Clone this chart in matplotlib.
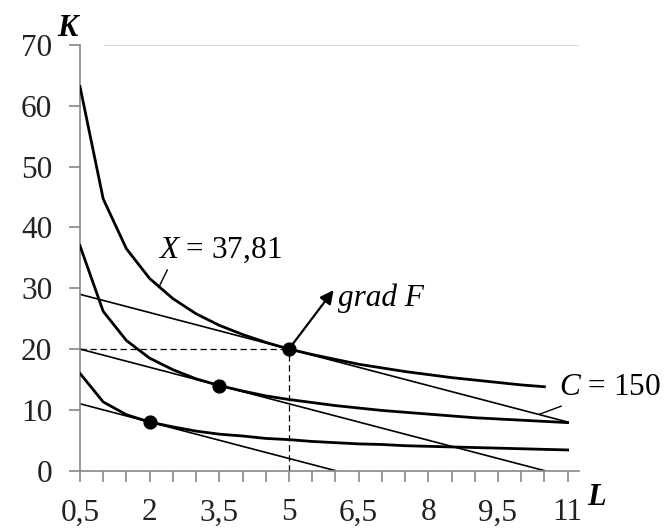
import numpy as np
import matplotlib.pyplot as plt

# L values (labour), isoquant K values
L = [0.5, 1.0, 1.5, 2.0, 2.5, 3.0, 3.5, 4.0, 4.5, 5.0, 5.5,
     6.0, 6.5, 7.0, 7.5, 8.0, 8.5, 9.0, 9.5, 10.0, 10.5, 11.0]
K_top = [63.2, 44.7, 36.5, 31.6, 28.3, 25.8, 23.9, 22.4, 21.1, 20.0, 19.1,
         18.3, 17.5, 16.9, 16.3, 15.8, 15.3, 14.9, 14.5, 14.1, 13.8]
K_mid = [37.0, 26.2, 21.4, 18.5, 16.6, 15.1, 14.0, 13.1, 12.3, 11.7, 11.2,
         10.7, 10.3, 9.9, 9.6, 9.3, 9.0, 8.7, 8.5, 8.3, 8.1, 7.9]
K_low = [16.0, 11.3, 9.2, 8.0, 7.2, 6.5, 6.0, 5.7, 5.3, 5.1, 4.8,
         4.6, 4.4, 4.3, 4.1, 4.0, 3.9, 3.8, 3.7, 3.6, 3.5, 3.4]

# budget lines (end points)
bud_top_L = [0.5, 11.0]
bud_top_K = [29.0, 8.0]
bud_mid_L = [0.5, 10.5]
bud_mid_K = [20.0, 0.0]
bud_low_L = [0.5, 6.0]
bud_low_K = [11.0, 0.0]

# tangency points
opt_L = [2.0, 3.5, 5.0]
opt_K = [8.0, 14.0, 20.0]

grad_end = (5.96, 29.7)

xticks = np.arange(0.5, 11.01, 0.5)
xlabels = ['0,5', '2', '3,5', '5', '6,5', '8', '9,5', '11']

plt.rcParams['font.family'] = 'Liberation Serif'
plt.rcParams['mathtext.fontset'] = 'custom'
plt.rcParams['mathtext.rm'] = 'Liberation Serif'
plt.rcParams['mathtext.it'] = 'Liberation Serif:italic'

fig = plt.figure(figsize=(6.72, 5.30), dpi=100)
ax = fig.add_axes([0.119, 0.112, 0.743, 0.803])

ax.plot(L[:len(K_top)], K_top, color='black', lw=2.0, zorder=3)
ax.plot(L, K_mid, color='black', lw=2.0, zorder=3)
ax.plot(L, K_low, color='black', lw=2.0, zorder=3)

ax.plot(bud_top_L, bud_top_K, color='black', lw=1.2, zorder=2)
ax.plot(bud_mid_L, bud_mid_K, color='black', lw=1.2, zorder=2)
ax.plot(bud_low_L, bud_low_K, color='black', lw=1.2, zorder=2)

# dashed guides to the optimum
ax.plot([L[0], opt_L[2]], [opt_K[2], opt_K[2]], color='black', lw=0.9, ls=(0, (5, 3)))
ax.plot([opt_L[2], opt_L[2]], [0, opt_K[2]], color='black', lw=0.9, ls=(0, (5, 3)))

ax.scatter(opt_L, opt_K, s=85, color='black', zorder=5)

ax.annotate('', xy=grad_end, xytext=(opt_L[2], opt_K[2]),
            arrowprops=dict(arrowstyle='-|>', color='black', lw=1.6,
                            mutation_scale=20, shrinkA=0, shrinkB=0), zorder=6)

ax.text(6.05, 28.4, 'grad F', fontsize=22.5, style='italic', va='center', ha='left')

ax.text(2.18, 36.3, r'$\it{X}$ = 37,81', fontsize=22.5, va='center', ha='left')
ax.plot([2.2, 2.38], [30.2, 33.0], color='black', lw=1.0)

ax.text(10.82, 13.6, r'$\it{C}$ = 150', fontsize=22.5, va='center', ha='left')
ax.plot([10.4, 10.86], [9.3, 10.6], color='black', lw=1.0)

ax.axhline(70, xmin=0.048, xmax=1, color='#d0d0d0', lw=1.2)

ax.set_xlim(0.5, 11.25)
ax.set_ylim(0, 70)
ax.set_xticks(xticks)
ax.set_xticklabels([xlabels[i // 3] if i % 3 == 0 else '' for i in range(len(xticks))])
ax.set_yticks(range(0, 71, 10))

for side in ['top', 'right']:
    ax.spines[side].set_visible(False)
for side in ['left', 'bottom']:
    ax.spines[side].set_color('#888888')
    ax.spines[side].set_linewidth(1.2)
ax.tick_params(axis='both', colors='#888888', length=8, width=1.2,
               labelsize=22.5, labelcolor='#222222')
ax.tick_params(axis='x', pad=12)
ax.tick_params(axis='y', pad=12)

fig.text(0.101, 0.947, 'K', fontsize=22, fontweight='bold', style='italic', ha='center', va='center')
fig.text(0.887, 0.062, 'L', fontsize=22, fontweight='bold', style='italic', ha='center', va='center')

fig.savefig('out.png', dpi=100)
